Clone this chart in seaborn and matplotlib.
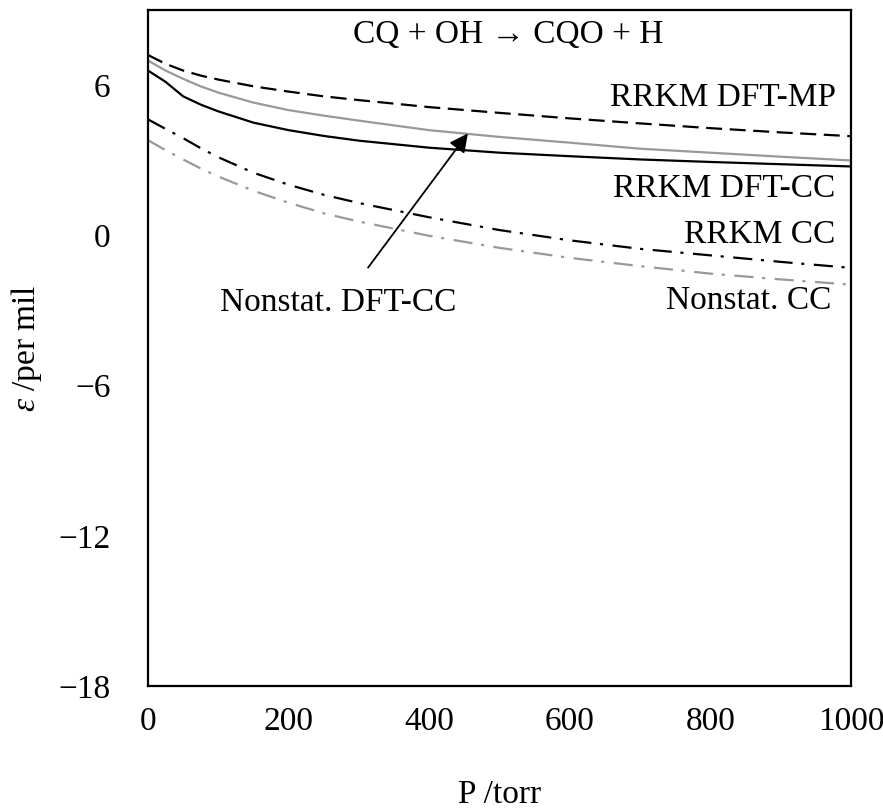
import pandas as pd
import seaborn as sns
import matplotlib.pyplot as plt

# pressure grid (torr) and epsilon values (per mil)
pressure = [0, 25, 50, 75, 100, 150, 200, 250, 300, 400, 500, 600, 700, 800, 900, 1000]
rrkm_dft_mp = [7.20, 6.85, 6.58, 6.38, 6.22, 5.95, 5.74, 5.55, 5.40, 5.12, 4.89, 4.67, 4.47, 4.28, 4.11, 3.96]
nonstat_dft_cc = [6.98, 6.58, 6.25, 5.95, 5.70, 5.30, 5.00, 4.78, 4.58, 4.20, 3.93, 3.70, 3.46, 3.30, 3.14, 2.99]
rrkm_dft_cc = [6.58, 6.13, 5.55, 5.22, 4.95, 4.50, 4.20, 3.97, 3.78, 3.50, 3.30, 3.16, 3.03, 2.93, 2.84, 2.75]
rrkm_cc = [4.63, 4.25, 3.88, 3.48, 3.12, 2.50, 2.02, 1.62, 1.29, 0.72, 0.21, -0.20, -0.54, -0.80, -1.06, -1.30]
nonstat_cc = [3.80, 3.40, 3.03, 2.67, 2.35, 1.78, 1.30, 0.88, 0.55, -0.02, -0.50, -0.90, -1.23, -1.53, -1.76, -1.97]

series = {
    "RRKM DFT-MP": rrkm_dft_mp,
    "Nonstat. DFT-CC": nonstat_dft_cc,
    "RRKM DFT-CC": rrkm_dft_cc,
    "RRKM CC": rrkm_cc,
    "Nonstat. CC": nonstat_cc,
}

frames = [pd.DataFrame({"P": pressure, "eps": vals, "series": name}) for name, vals in series.items()]
df = pd.concat(frames, ignore_index=True)

palette = {
    "RRKM DFT-MP": "black",
    "Nonstat. DFT-CC": "#999999",
    "RRKM DFT-CC": "black",
    "RRKM CC": "black",
    "Nonstat. CC": "#999999",
}
dashes = {
    "RRKM DFT-MP": (7.2, 3.4),
    "Nonstat. DFT-CC": "",
    "RRKM DFT-CC": "",
    "RRKM CC": (8.6, 3.9, 1.4, 4.3),
    "Nonstat. CC": (8.6, 3.9, 1.4, 4.3),
}

sns.set_style("white")
plt.rcParams["font.family"] = ["Liberation Serif", "DejaVu Serif"]
plt.rcParams["text.color"] = "black"
plt.rcParams["axes.labelcolor"] = "black"
plt.rcParams["mathtext.fontset"] = "custom"
plt.rcParams["mathtext.rm"] = "Liberation Serif"
plt.rcParams["mathtext.it"] = "Liberation Serif:italic"

fig = plt.figure(figsize=(8.83, 8.10), dpi=100)
ax = fig.add_axes([0.1676, 0.153, 0.7962, 0.8347])

sns.lineplot(data=df, x="P", y="eps", hue="series", style="series",
             palette=palette, dashes=dashes, linewidth=1.6, legend=False, ax=ax)

ax.set_xlim(0, 1000)
ax.set_ylim(-18, 9)
ax.set_xticks([0, 200, 400, 600, 800, 1000])
ax.set_yticks([-18, -12, -6, 0, 6])
ax.tick_params(direction="in", length=7.5, width=0.9, color="black",
               labelsize=24, labelcolor="black")
ax.tick_params(axis="x", pad=15)
ax.tick_params(axis="y", pad=27)
for sp in ax.spines.values():
    sp.set_color("black")
    sp.set_linewidth(1.6)

ax.set_xlabel("P /torr", fontsize=24, labelpad=30)
ax.set_ylabel(r"$\varepsilon$ /per mil", fontsize=24, labelpad=10)

ax.text(512, 8.0, "CQ + OH \u2192 CQO + H", fontsize=24, ha="center", va="center")
ax.text(978, 5.48, "RRKM DFT-MP", fontsize=24, ha="right", va="center")
ax.text(978, 1.85, "RRKM DFT-CC", fontsize=24, ha="right", va="center")
ax.text(978, 0.04, "RRKM CC", fontsize=24, ha="right", va="center")
ax.text(972, -2.6, "Nonstat. CC", fontsize=24, ha="right", va="center")
ax.text(270, -2.7, "Nonstat. DFT-CC", fontsize=24, ha="center", va="center")
ax.annotate("", xy=(455, 4.07), xytext=(313, -1.29),
            arrowprops=dict(arrowstyle="-|>", color="black", lw=1.3,
                            mutation_scale=28, shrinkA=0, shrinkB=0))

fig.savefig("out.png", dpi=100)
